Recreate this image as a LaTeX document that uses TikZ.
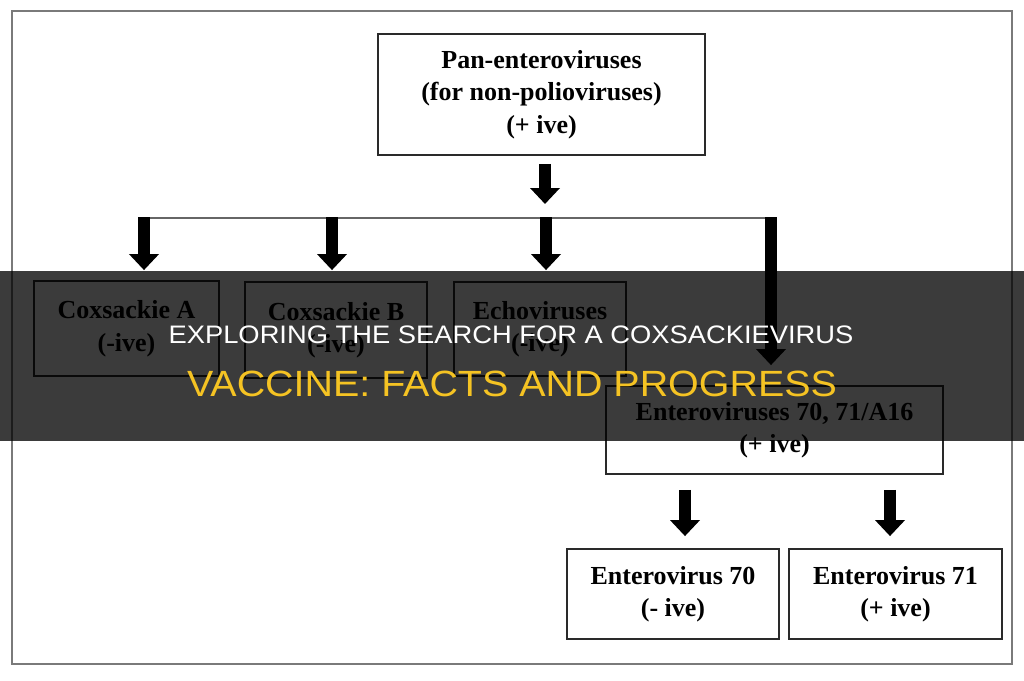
\documentclass[tikz,border=0pt]{standalone}
\usepackage{fontspec}
\setmainfont{Liberation Serif}
\newfontfamily\bannerfont[FakeStretch=1.08]{Liberation Sans}
\usetikzlibrary{arrows.meta,calc}
\definecolor{framegray}{HTML}{7A7A7A}
\definecolor{boxgray}{HTML}{2A2A2A}
\definecolor{busgray}{HTML}{666666}
\definecolor{banneryellow}{RGB}{245,195,35}
\tikzset{
  box/.style={draw=boxgray, line width=1.8pt, align=center, inner sep=0pt,
    font=\bfseries\fontsize{26}{32.5}\selectfont},
  bigarrow/.style={draw=black, line width=11.5pt, -{Triangle[width=29pt,length=16pt]}},
  bus/.style={draw=busgray, line width=2pt},
  frame/.style={draw=framegray, line width=2pt},
  bannertext/.style={anchor=base, inner sep=0pt}
}
\begin{document}
\begin{tikzpicture}[x=1pt,y=-1pt]
\useasboundingbox (0,0) rectangle (1024,680);
\fill[white] (0,0) rectangle (1024,680);
\draw[frame] (12,11) rectangle (1012,664);

\node[box, minimum width=327pt, minimum height=121pt] (pan) at (541.5,94.5)
  {Pan-enteroviruses\\(for non-polioviruses)\\(+ ive)};
\node[box, minimum width=185pt, minimum height=95pt] (ca) at (126.5,328.5)
  {Coxsackie A\\(-ive)};
\node[box, minimum width=182pt, minimum height=96pt] (cb) at (336,330)
  {Coxsackie B\\(-ive)};
\node[box, minimum width=172pt, minimum height=94pt] (echo) at (540,329)
  {Echoviruses\\(-ive)};
\node[box, minimum width=337pt, minimum height=88pt] (ev) at (774.5,430)
  {Enteroviruses 70, 71/A16\\(+ ive)};
\node[box, minimum width=212pt, minimum height=90pt] (ev70) at (673,594)
  {Enterovirus 70\\(- ive)};
\node[box, minimum width=213pt, minimum height=90pt] (ev71) at (895.5,594)
  {Enterovirus 71\\(+ ive)};

\coordinate (topTip) at (545,204);
\coordinate (busL) at (144,218);
\coordinate (busB) at (332,218);
\coordinate (busE) at (546,218);
\coordinate (busR) at (771,218);
\coordinate (s70) at (685,489);
\coordinate (s71) at (890,489);

\draw[bigarrow] ([yshift=-8pt]pan.south -| topTip) -- (topTip);
\draw[bus] (busL) -- (busR);
\draw[bigarrow] ([yshift=1pt]busL) -- ([yshift=10pt]ca.north -| busL);
\draw[bigarrow] ([yshift=1pt]busB) -- ([yshift=11pt]cb.north -| busB);
\draw[bigarrow] ([yshift=1pt]busE) -- ([yshift=11pt]echo.north -| busE);
\draw[bigarrow] ([yshift=1pt]busR) -- ([yshift=20pt]ev.north -| busR);
\draw[bigarrow] (ev.south -| s70) ++(0,15) -- ([yshift=12pt]ev70.north -| s70);
\draw[bigarrow] (ev.south -| s71) ++(0,15) -- ([yshift=12pt]ev71.north -| s71);

\fill[black, opacity=0.77] (0,271) rectangle (1024,441);
\node[bannertext, text=white, font=\bannerfont\fontsize{25.3}{30}\selectfont] (title1) at (511,343)
  {EXPLORING THE SEARCH FOR A COXSACKIEVIRUS};
\node[bannertext, text=banneryellow, font=\bannerfont\fontsize{36.5}{40}\selectfont] (title2) at (512,396)
  {VACCINE: FACTS AND PROGRESS};
\end{tikzpicture}
\end{document}
